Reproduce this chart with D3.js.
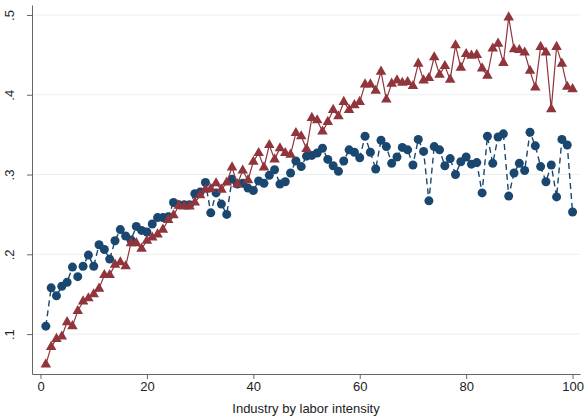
<!DOCTYPE html>
<html>
<head>
<meta charset="utf-8">
<script src="https://cdn.jsdelivr.net/npm/d3@7"></script>
<style>
  body { margin: 0; background: #fff; }
  svg text { font-family: "Liberation Sans", Arial, sans-serif; fill: #222; }
</style>
</head>
<body>
<svg id="chart" width="586" height="420"></svg>
<script>
// share of workers, by industry ranked on labor intensity (1..100)
const seriesBlue = [
  0.110, 0.158, 0.148, 0.160, 0.165, 0.184, 0.172, 0.185, 0.199, 0.185,
  0.212, 0.206, 0.194, 0.217, 0.231, 0.223, 0.218, 0.235, 0.230, 0.228,
  0.238, 0.246, 0.246, 0.247, 0.265, 0.262, 0.262, 0.262, 0.276, 0.278,
  0.290, 0.252, 0.277, 0.263, 0.250, 0.294, 0.288, 0.289, 0.283, 0.280,
  0.292, 0.289, 0.299, 0.306, 0.288, 0.291, 0.302, 0.317, 0.310, 0.323,
  0.324, 0.327, 0.333, 0.319, 0.311, 0.304, 0.317, 0.331, 0.328, 0.321,
  0.348, 0.328, 0.307, 0.343, 0.335, 0.314, 0.322, 0.334, 0.331, 0.312,
  0.344, 0.329, 0.267, 0.335, 0.331, 0.311, 0.320, 0.300, 0.316, 0.322,
  0.313, 0.315, 0.277, 0.348, 0.314, 0.347, 0.351, 0.273, 0.302, 0.314,
  0.305, 0.353, 0.336, 0.310, 0.291, 0.312, 0.272, 0.344, 0.337, 0.253
];
const seriesRed = [
  0.062, 0.084, 0.094, 0.097, 0.115, 0.110, 0.129, 0.141, 0.145, 0.150,
  0.157, 0.174, 0.174, 0.187, 0.190, 0.185, 0.214, 0.214, 0.207, 0.217,
  0.221, 0.225, 0.231, 0.243, 0.249, 0.261, 0.260, 0.260, 0.265, 0.274,
  0.281, 0.282, 0.289, 0.281, 0.290, 0.309, 0.288, 0.305, 0.293, 0.316,
  0.327, 0.309, 0.337, 0.319, 0.333, 0.327, 0.325, 0.352, 0.348, 0.332,
  0.371, 0.368, 0.354, 0.366, 0.381, 0.373, 0.391, 0.381, 0.387, 0.391,
  0.413, 0.413, 0.405, 0.429, 0.394, 0.414, 0.418, 0.415, 0.416, 0.411,
  0.439, 0.418, 0.421, 0.447, 0.425, 0.436, 0.419, 0.462, 0.434, 0.451,
  0.449, 0.450, 0.433, 0.424, 0.458, 0.464, 0.440, 0.497, 0.457, 0.456,
  0.453, 0.430, 0.409, 0.460, 0.453, 0.382, 0.460, 0.439, 0.410, 0.407
];
const xTicks = [0, 20, 40, 60, 80, 100];
const yTicks = [0.1, 0.2, 0.3, 0.4, 0.5];
const xTitle = "Industry by labor intensity";

const svg = d3.select("#chart");
const plot = {left: 32, right: 580, top: 5, bottom: 374};

const x = d3.scaleLinear().domain([-1.6, 101.4]).range([plot.left, plot.right]);
const y = d3.scaleLinear().domain([0.05, 0.5125]).range([plot.bottom, plot.top]);
const fmt = d => d3.format(".1f")(d).replace(/^0/, "");

// grid
svg.append("g").selectAll("line")
    .data(yTicks).enter()
    .append("line")
      .attr("x1", plot.left).attr("x2", plot.right)
      .attr("y1", d => y(d)).attr("y2", d => y(d))
      .attr("stroke", "#eaeff0").attr("stroke-width", 1);

// axes
const axisY = svg.append("g")
    .attr("transform", `translate(${plot.left},0)`)
    .call(d3.axisLeft(y).tickValues(yTicks).tickFormat(fmt).tickSize(5).tickSizeOuter(0));
axisY.select(".domain").attr("stroke", "#666");
axisY.selectAll(".tick line").attr("stroke", "#666");
axisY.selectAll(".tick text")
    .attr("font-size", 13)
    .attr("transform", "rotate(-90)")
    .attr("x", 0).attr("y", -18)
    .attr("dy", 0)
    .attr("text-anchor", "middle");

const axisX = svg.append("g")
    .attr("transform", `translate(0,${plot.bottom})`)
    .call(d3.axisBottom(x).tickValues(xTicks).tickSize(5).tickSizeOuter(0));
axisX.select(".domain").attr("stroke", "#666");
axisX.selectAll(".tick line").attr("stroke", "#666");
axisX.selectAll(".tick text").attr("font-size", 13).attr("y", 8);

svg.append("text")
    .attr("x", (plot.left + plot.right) / 2)
    .attr("y", 413)
    .attr("text-anchor", "middle")
    .attr("font-size", 13)
    .text(xTitle);

const toPts = vals => vals.map((v, i) => ({i: i + 1, v: v}));
const line = d3.line().x(d => x(d.i)).y(d => y(d.v));

// blue circles, dashed
const blue = toPts(seriesBlue);
svg.append("path")
    .datum(blue)
    .attr("d", line)
    .attr("fill", "none")
    .attr("stroke", "#1a476f")
    .attr("stroke-width", 1.4)
    .attr("stroke-dasharray", "6,4");
svg.append("g").selectAll("circle")
    .data(blue).enter()
    .append("circle")
      .attr("cx", d => x(d.i))
      .attr("cy", d => y(d.v))
      .attr("r", 4.5)
      .attr("fill", "#1a476f");

// red triangles, solid
const red = toPts(seriesRed);
svg.append("path")
    .datum(red)
    .attr("d", line)
    .attr("fill", "none")
    .attr("stroke", "#90353b")
    .attr("stroke-width", 1.2);
svg.append("g").selectAll("path")
    .data(red).enter()
    .append("path")
      .attr("d", d3.symbol(d3.symbolTriangle, 48))
      .attr("transform", d => `translate(${x(d.i)},${y(d.v)})`)
      .attr("fill", "#90353b");
</script>
</body>
</html>
